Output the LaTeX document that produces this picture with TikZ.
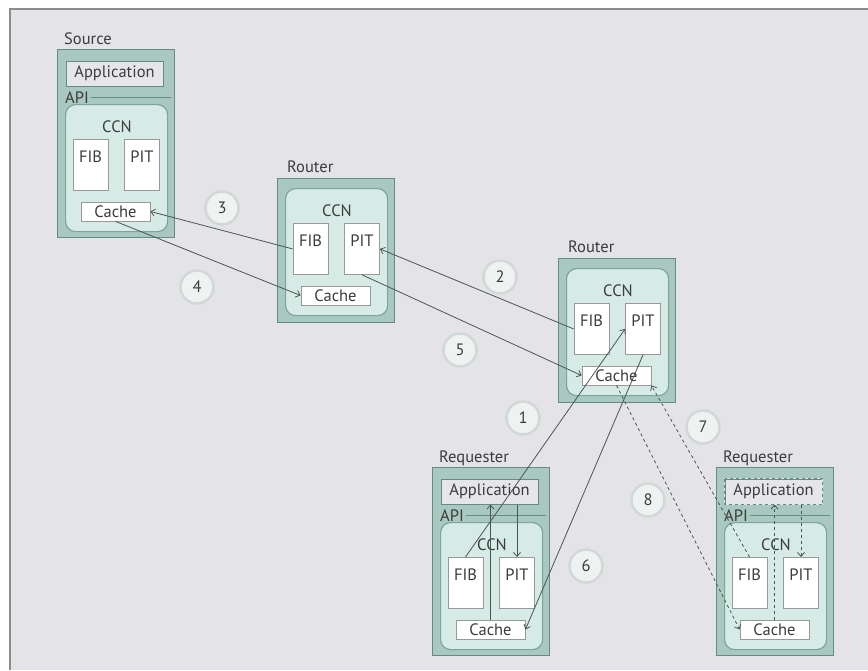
\documentclass[tikz,border=0pt]{standalone}
\usepackage{fontspec}
\setmainfont{PT Sans}
\usepackage{tikz}
\usetikzlibrary{arrows.meta,positioning,calc}

\definecolor{paper}{HTML}{E4E3E8}
\definecolor{frameline}{HTML}{8C8C8C}
\definecolor{stackfill}{HTML}{A8C8C0}
\definecolor{stackline}{HTML}{648C82}
\definecolor{ccnfill}{HTML}{D6EAE6}
\definecolor{ccnline}{HTML}{7DA59B}
\definecolor{appfill}{HTML}{E6E6EA}
\definecolor{flowline}{HTML}{4A5654}
\definecolor{ink}{HTML}{3C3C3C}
\definecolor{stepfill}{HTML}{EEF3F1}
\definecolor{stepline}{HTML}{D2D8D6}

\begin{document}
\begin{tikzpicture}[x=1pt, y=-1pt, >={Straight Barb[length=4pt,width=7pt]},
  font=\fontsize{16.5}{19}\selectfont, text=ink,
  stackbox/.style={draw=stackline, fill=stackfill, line width=1.4pt, anchor=north west, inner sep=0pt, minimum width=117pt},
  ccnbox/.style={draw=ccnline, fill=ccnfill, line width=1.2pt, rounded corners=10pt, anchor=north west, inner sep=0pt, minimum width=102pt, minimum height=127pt},
  appbox/.style={draw=stackline, fill=appfill, line width=1pt, minimum width=97pt, minimum height=25pt, inner sep=0pt},
  tablebox/.style={draw=gray!80, fill=white, line width=0.8pt, anchor=north, inner sep=0pt, minimum width=35pt, text height=23pt, text depth=28pt},
  cachebox/.style={draw=gray!80, fill=white, line width=0.8pt, inner sep=0pt, minimum width=69pt, minimum height=19pt},
  stacklabel/.style={anchor=base west, inner sep=0pt},
  apiline/.style={draw=stackline, line width=1pt, shorten <=2pt, shorten >=4pt},
  flow/.style={draw=flowline, line width=0.8pt},
  stepnum/.style={circle, draw=stepline, fill=stepfill, line width=2.5pt, minimum size=33pt, inner sep=0pt}]

  \useasboundingbox (0,0) rectangle (868,670);
  \fill[paper] (10,9) rectangle (868,670);
  \draw[frameline, line width=1.5pt] (10,670) -- (10,9) -- (868,9);

  % stacks with an application on top
  \foreach \n/\x/\y/\t in {s/57/49/Source, q1/432/467/Requester, q2/716/467/Requester}{
    \node[stackbox, minimum height=188pt] (\n-box) at (\x,\y) {};
    \node[stacklabel] (\n-name) at (\x+7,\y-5) {\t};
    \node[appbox] (\n-app) at (\x+57.5,\y+24.5) {Application};
    \node[stacklabel] (\n-api) at (\x+8,\y+54) {API};
    \draw[apiline] (\n-api.east) -- (\n-api.east -| \n-box.east);
  }
  \draw[appfill, line width=1pt] (q2-app.north west) rectangle (q2-app.south east);
  \draw[stackline, line width=1pt, dashed] (q2-app.north west) rectangle (q2-app.south east);

  % routers
  \foreach \n/\x/\y in {r1/277/178, r2/558/258}{
    \node[stackbox, minimum height=144pt] (\n-box) at (\x,\y) {};
    \node[stacklabel] (\n-name) at (\x+10,\y-6) {Router};
  }

  % CCN layer in every stack
  \foreach \n/\x/\y in {s/57/94, r1/277/178, r2/558/258, q1/432/512, q2/716/512}{
    \node[ccnbox] (\n-ccn) at (\x+8,\y+10) {};
    \node (\n-title) at (\x+60,\y+33) {CCN};
    \node[tablebox] (\n-fib) at (\x+33.5,\y+45) {FIB};
    \node[tablebox] (\n-pit) at (\x+85,\y+45) {PIT};
    \node[cachebox] (\n-cache) at (\x+58.5,\y+117.5) {Cache};
  }

  % steps
  \foreach \k/\x/\y in {1/523/418, 2/500/277, 3/222/208, 4/197/287, 5/460/350, 6/586/566, 7/703/427, 8/648/500}{
    \node[stepnum] (n\k) at (\x,\y) {\k};
  }

  % interest and data
  \draw[flow,->] (q1-cache.north) -- (q1-cache.north |- q1-app.south);
  \draw[flow,->] (q1-pit.north |- q1-app.south) -- (q1-pit.north);
  \foreach \a/\b in {q1-fib.north/r2-pit.west, r2-fib.west/r1-pit.east, r1-fib.west/s-cache.east, s-cache.south/r1-cache.west, r1-pit.south/r2-cache.west, r2-pit.south/q1-cache.east}{\draw[flow,->](\a)--(\b);}

  \draw[flow,dashed,->] (q2-cache.north) -- (q2-cache.north |- q2-app.south);
  \draw[flow,dashed,->] (q2-pit.north |- q2-app.south) -- (q2-pit.north);
  \foreach \a/\b in {q2-fib.north/r2-cache.south east, r2-cache.south/q2-cache.west}{\draw[flow,dashed,->](\a)--(\b);}
\end{tikzpicture}
\end{document}
